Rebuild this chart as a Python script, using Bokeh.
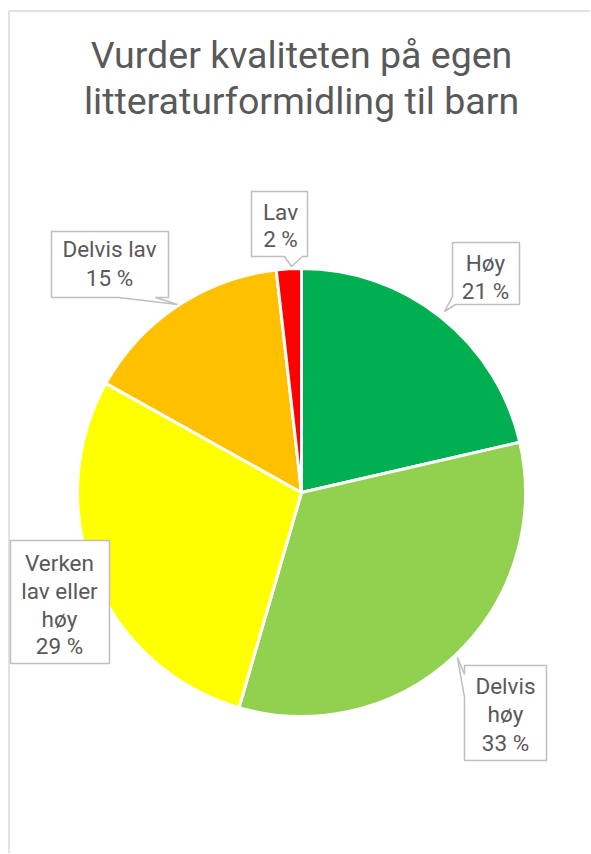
import numpy as np
from bokeh.plotting import figure
from bokeh.models import Range1d, ColumnDataSource
from bokeh.core.properties import value
from bokeh.embed import file_html
from bokeh.resources import INLINE

# ---- data ----
categories = ["Høy", "Delvis høy", "Verken lav eller høy", "Delvis lav", "Lav"]
values = [21.4, 33.1, 28.6, 15.1, 1.8]
colors = ["#00B050", "#92D050", "#FFFF00", "#FFC000", "#FF0000"]
label_lines = [["Høy", "21 %"], ["Delvis", "høy", "33 %"], ["Verken", "lav eller", "høy", "29 %"],
               ["Delvis lav", "15 %"], ["Lav", "2 %"]]
title_lines = ["Vurder kvaliteten på egen", "litteraturformidling til barn"]

W, H = 590, 853
p = figure(width=W, height=H, output_backend="svg", toolbar_location=None,
           x_axis_type=None, y_axis_type=None, min_border=0,
           x_range=Range1d(0, W), y_range=Range1d(-H, 0))
p.grid.visible = False
p.outline_line_color = None
p.background_fill_color = "white"
p.border_fill_color = "white"

TXT = "#595959"
FONT = value("Roboto")

# chart border (left and top only visible)
p.line([8.5, 8.5, 700], [-1000, -10.5, -10.5], line_color="#D9D9D9", line_width=1.5)

# title
p.text(x=[301, 301], y=[-54, -100], text=title_lines, text_font=FONT, text_font_size="37.5px",
       text_color=TXT, text_align="center", text_baseline="middle")

# pie
cx, cy, r = 301, -492, 224
vals = np.array(values, dtype=float)
frac = vals / vals.sum()
cum = np.concatenate([[0], np.cumsum(frac)])
start = np.pi / 2 - cum[1:] * 2 * np.pi
end = np.pi / 2 - cum[:-1] * 2 * np.pi
src = ColumnDataSource(dict(start=start, end=end, color=colors))
p.wedge(x=cx, y=cy, radius=r, start_angle="start", end_angle="end", fill_color="color",
        line_color="white", line_width=3, source=src)

# callouts: polygon (image coords) and text positions
callouts = [
    # Høy
    ([(452, 242), (519, 242), (519, 304), (455, 304), (444, 311), (452, 296)],
     485, [262, 290]),
    # Delvis høy
    ([(464, 665), (546, 665), (546, 760), (464, 760), (464, 697), (457, 657), (464, 674)],
     505, [685, 713, 742]),
    # Verken
    ([(10, 540), (109, 540), (109, 663), (10, 663)],
     59, [562, 590, 618, 645]),
    # Delvis lav
    ([(51, 231), (168, 231), (168, 297), (155, 297), (177, 304), (118, 297), (51, 297)],
     109, [248, 277]),
    # Lav
    ([(251, 191), (307, 191), (307, 256), (302, 256), (291, 266), (284, 256), (251, 256)],
     280, [211, 238]),
]
xs, ys = [], []
for poly, _, _ in callouts:
    xs.append([pt[0] for pt in poly])
    ys.append([-pt[1] for pt in poly])
p.patches(xs, ys, fill_color="white", line_color="#BFBFBF", line_width=1.5)

tx, ty, tt = [], [], []
for i, (poly, x, yl) in enumerate(callouts):
    for yy, line in zip(yl, label_lines[i]):
        tx.append(x)
        ty.append(-yy)
        tt.append(line)
p.text(x=tx, y=ty, text=tt, text_font=FONT, text_font_size="22.5px", text_color=TXT,
       text_align="center", text_baseline="middle")

open("out.html", "w").write(file_html(p, INLINE))
